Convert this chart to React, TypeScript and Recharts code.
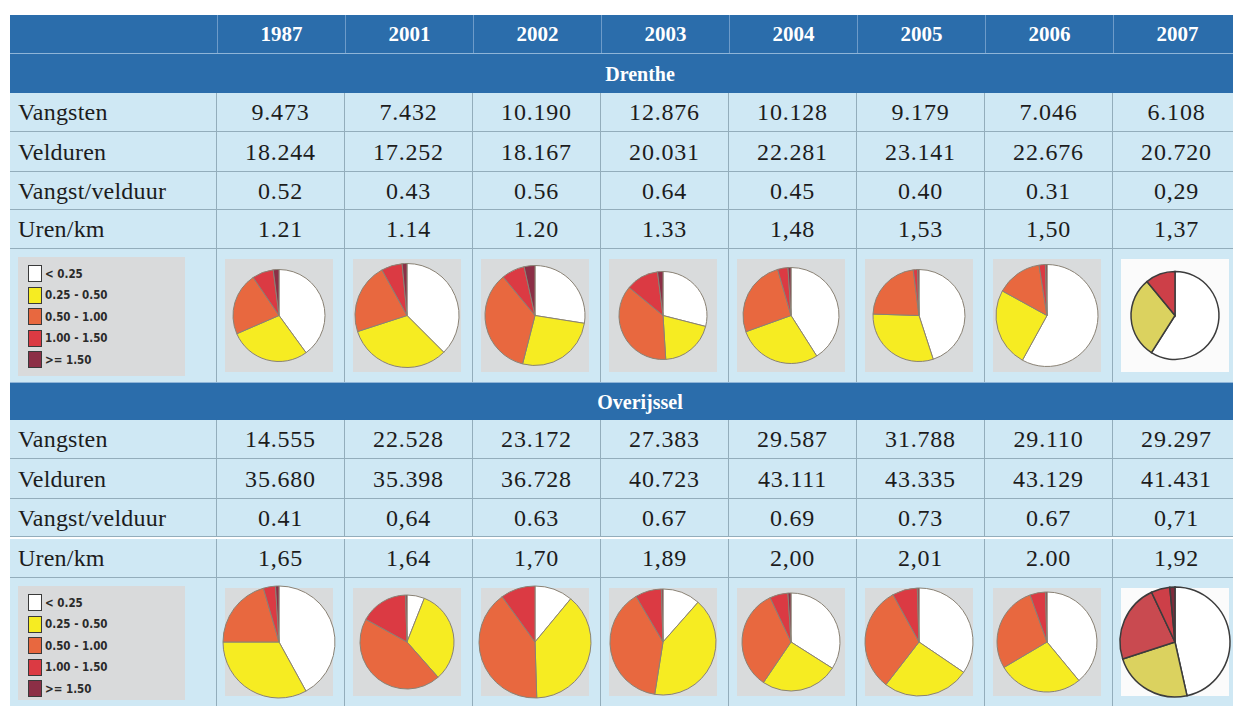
import React from 'react';
import { PieChart, Pie, Cell } from 'recharts';

const years = ['1987', '2001', '2002', '2003', '2004', '2005', '2006', '2007'];
const bands = ['< 0.25', '0.25 - 0.50', '0.50 - 1.00', '1.00 - 1.50', '>= 1.50'];
const rowLabels = ['Vangsten', 'Velduren', 'Vangst/velduur', 'Uren/km'];

// Drenthe
const drentheVangsten = ['9.473', '7.432', '10.190', '12.876', '10.128', '9.179', '7.046', '6.108'];
const drentheVelduren = ['18.244', '17.252', '18.167', '20.031', '22.281', '23.141', '22.676', '20.720'];
const drentheVangstPerUur = ['0.52', '0.43', '0.56', '0.64', '0.45', '0.40', '0.31', '0,29'];
const drentheUrenKm = ['1.21', '1.14', '1.20', '1.33', '1,48', '1,53', '1,50', '1,37'];
// share (%) of km-squares per band, clockwise from 12 o'clock
const drentheShares = [
  [40, 28.5, 22, 7.5, 2],
  [37.5, 32.5, 22, 6.5, 1.5],
  [27.5, 26.5, 35, 7.5, 3.5],
  [29, 20, 37, 12, 2],
  [41, 28.5, 26, 3.5, 1],
  [45, 30.5, 22.5, 1.5, 0.5],
  [58, 25, 14.5, 2, 0.5],
  [59, 30, 0, 11, 0],
];

// Overijssel
const overijsselVangsten = ['14.555', '22.528', '23.172', '27.383', '29.587', '31.788', '29.110', '29.297'];
const overijsselVelduren = ['35.680', '35.398', '36.728', '40.723', '43.111', '43.335', '43.129', '41.431'];
const overijsselVangstPerUur = ['0.41', '0,64', '0.63', '0.67', '0.69', '0.73', '0.67', '0,71'];
const overijsselUrenKm = ['1,65', '1,64', '1,70', '1,89', '2,00', '2,01', '2.00', '1,92'];
const overijsselShares = [
  [42, 33, 20.5, 3.5, 1],
  [6, 32.5, 44.5, 16.5, 0.5],
  [11, 38.5, 40.5, 10, 0],
  [11.5, 41, 39, 8, 0.5],
  [34, 25.5, 33.5, 6, 1],
  [34.5, 26, 31.5, 7.5, 0.5],
  [39, 27.5, 28, 5, 0.5],
  [46.5, 23.5, 23, 5.5, 1.5],
];

const BAND_COLORS = ['#ffffff', '#f6ec22', '#e8683f', '#db3a43', '#8c2f46'];
const MUTED_COLORS = ['#ffffff', '#dbd25f', '#c94a50', '#cd3f48', '#7e2b3b'];

const drentheRadius = [46, 52, 50, 44, 48, 46, 51, 44];
const overijsselRadius = [56, 47, 56, 53, 49, 54, 50, 55];

const LEFT = 10;
const LABEL_W = 207;
const COL_W = 128;
const FIRST_COL = LEFT + LABEL_W;
const TABLE_RIGHT = FIRST_COL + COL_W * years.length;

const HEADER_BLUE = '#2b6dab';
const ROW_BG = '#cfe8f4';
const GRID = '#93adbb';
const SERIF = '"Liberation Serif", "Times New Roman", Times, serif';
const LEGEND_FONT = '"DejaVu Sans Condensed", "Liberation Sans Narrow", "DejaVu Sans", sans-serif';

function colLeft(i: number) {
  return FIRST_COL + i * COL_W;
}

function SectionBar({ top, height, title }: { top: number; height: number; title: string }) {
  return (
    <div style={{ position: 'absolute', left: LEFT, top, width: TABLE_RIGHT - LEFT, height, background: HEADER_BLUE, borderTop: '1px solid #8fb5d8' }}>
      <div style={{ position: 'absolute', left: 640 - LEFT, top: 0, height, lineHeight: `${height}px`, transform: 'translateX(-50%)', color: '#fff', fontFamily: SERIF, fontWeight: 700, fontSize: 20 }}>
        {title}
      </div>
    </div>
  );
}

function DataRow({ top, height, label, values }: { top: number; height: number; label: string; values: string[] }) {
  return (
    <>
      <div style={{ position: 'absolute', left: LEFT, top, width: LABEL_W, height, boxSizing: 'border-box', borderRight: `1px solid ${GRID}`, borderBottom: `1px solid ${GRID}`, background: ROW_BG, paddingLeft: 8, lineHeight: `${height}px`, fontFamily: SERIF, fontSize: 24, letterSpacing: 0.2, color: '#1c1c1c' }}>
        {label}
      </div>
      {values.map((v, i) => (
        <div key={i} style={{ position: 'absolute', left: colLeft(i), top, width: COL_W, height, boxSizing: 'border-box', borderRight: `1px solid ${GRID}`, borderBottom: `1px solid ${GRID}`, background: ROW_BG, textAlign: 'center', lineHeight: `${height}px`, fontFamily: SERIF, fontSize: 24, letterSpacing: 0.8, color: '#1c1c1c' }}>
          {v}
        </div>
      ))}
    </>
  );
}

function Legend({ top, height }: { top: number; height: number }) {
  return (
    <div style={{ position: 'absolute', left: LEFT, top, width: LABEL_W, height, boxSizing: 'border-box', borderRight: `1px solid ${GRID}`, background: ROW_BG }}>
      <div style={{ position: 'absolute', left: 8, top: 8, width: 167, height: height - 14, background: '#d9dadb' }} />
      {bands.map((b, i) => (
        <div key={b} style={{ position: 'absolute', left: 18, top: 16 + i * 21.5, display: 'flex', alignItems: 'center', height: 17 }}>
          <div style={{ width: 14, height: 17, background: BAND_COLORS[i], border: '1.5px solid #3a3a3a', boxSizing: 'border-box' }} />
          <span style={{ marginLeft: 3, fontFamily: LEGEND_FONT, fontWeight: 700, fontSize: 11.5, color: '#2a2a2a' }}>
            {b}
          </span>
        </div>
      ))}
    </div>
  );
}

function PieRow({ top, height, shares, radius }: { top: number; height: number; shares: number[][]; radius: number[] }) {
  return (
    <>
      <Legend top={top} height={height} />
      {shares.map((s, i) => {
        const last = i === shares.length - 1;
        const colors = last ? MUTED_COLORS : BAND_COLORS;
        const data = bands.map((b, k) => ({ name: b, value: s[k] }));
        return (
          <div key={i} style={{ position: 'absolute', left: colLeft(i), top, width: COL_W, height, boxSizing: 'border-box', borderRight: `1px solid ${GRID}`, background: ROW_BG }}>
            <div style={{ position: 'absolute', left: 8, top: 10, width: COL_W - 20, height: height - 20, background: last ? '#fbfbfb' : '#d9dbdc' }} />
            <div style={{ position: 'absolute', left: 0, top: 0 }}>
              <PieChart width={COL_W - 4} height={height} margin={{ top: 0, right: 0, bottom: 0, left: 0 }}>
                <Pie
                  data={data}
                  dataKey="value"
                  nameKey="name"
                  cx="50%"
                  cy="50%"
                  outerRadius={radius[i]}
                  startAngle={90}
                  endAngle={-270}
                  stroke={last ? '#3c3c3c' : '#8a8275'}
                  strokeWidth={last ? 1.5 : 1}
                  isAnimationActive={false}
                >
                  {data.map((d, k) => (
                    <Cell key={d.name} fill={colors[k]} />
                  ))}
                </Pie>
              </PieChart>
            </div>
          </div>
        );
      })}
    </>
  );
}

export default function App() {
  const rowH = [39, 40, 38, 39];
  const dRows = [drentheVangsten, drentheVelduren, drentheVangstPerUur, drentheUrenKm];
  const oRows = [overijsselVangsten, overijsselVelduren, overijsselVangstPerUur, overijsselUrenKm];
  const dTops = [93, 132, 172, 210];
  const oTops = [420, 459, 499, 539];

  return (
    <div style={{ position: 'absolute', left: 0, top: 0, width: 1233, height: 706, overflow: 'hidden', background: '#fff', fontFamily: SERIF }}>
      {/* year header */}
      <div style={{ position: 'absolute', left: LEFT, top: 15, width: TABLE_RIGHT - LEFT, height: 38, background: HEADER_BLUE }} />
      {years.map((y, i) => (
        <div key={y} style={{ position: 'absolute', left: colLeft(i), top: 15, width: COL_W, height: 38, boxSizing: 'border-box', borderLeft: '1px solid #6d9bc9', textAlign: 'center', lineHeight: '38px', color: '#fff', fontFamily: SERIF, fontWeight: 700, fontSize: 21 }}>
          {y}
        </div>
      ))}

      <SectionBar top={53} height={40} title="Drenthe" />
      {rowLabels.map((l, i) => (
        <DataRow key={l} top={dTops[i]} height={rowH[i]} label={l} values={dRows[i]} />
      ))}
      <PieRow top={249} height={133} shares={drentheShares} radius={drentheRadius} />

      <SectionBar top={382} height={38} title="Overijssel" />
      {rowLabels.map((l, i) => (
        <DataRow key={l} top={oTops[i]} height={rowH[i]} label={l} values={oRows[i]} />
      ))}
      <PieRow top={578} height={128} shares={overijsselShares} radius={overijsselRadius} />
    </div>
  );
}
